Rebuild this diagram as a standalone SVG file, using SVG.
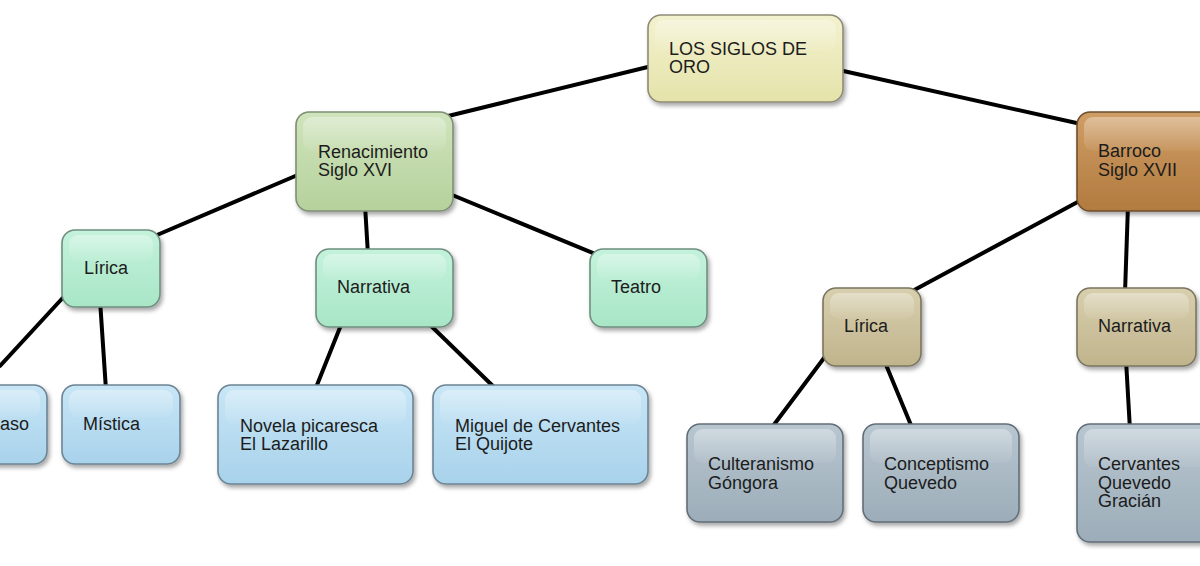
<svg xmlns="http://www.w3.org/2000/svg" width="1200" height="566" viewBox="0 0 1200 566">
<defs>
<filter id="sh" x="-20%" y="-20%" width="140%" height="140%">
<feDropShadow dx="2" dy="3" stdDeviation="2" flood-color="#000" flood-opacity="0.35"/>
</filter>
<linearGradient id="gY" x1="0" y1="0" x2="0" y2="1"><stop offset="0" stop-color="#f3f2cf"/><stop offset="1" stop-color="#e5e3aa"/></linearGradient>
<linearGradient id="gG" x1="0" y1="0" x2="0" y2="1"><stop offset="0" stop-color="#cfe4bc"/><stop offset="1" stop-color="#b6d19c"/></linearGradient>
<linearGradient id="gB" x1="0" y1="0" x2="0" y2="1"><stop offset="0" stop-color="#cf9e66"/><stop offset="1" stop-color="#b27a3e"/></linearGradient>
<linearGradient id="gM" x1="0" y1="0" x2="0" y2="1"><stop offset="0" stop-color="#c4f2dc"/><stop offset="1" stop-color="#a8e6c6"/></linearGradient>
<linearGradient id="gL" x1="0" y1="0" x2="0" y2="1"><stop offset="0" stop-color="#c8e6f6"/><stop offset="1" stop-color="#a8d2eb"/></linearGradient>
<linearGradient id="gT" x1="0" y1="0" x2="0" y2="1"><stop offset="0" stop-color="#d8cfae"/><stop offset="1" stop-color="#c0b48c"/></linearGradient>
<linearGradient id="gS" x1="0" y1="0" x2="0" y2="1"><stop offset="0" stop-color="#b8c6d0"/><stop offset="1" stop-color="#9cadb9"/></linearGradient>
<linearGradient id="hl" x1="0" y1="0" x2="0" y2="1"><stop offset="0" stop-color="#fff" stop-opacity="0.35"/><stop offset="1" stop-color="#fff" stop-opacity="0.05"/></linearGradient>
<style>
.box{stroke-width:1.6;filter:url(#sh)}
.hi{fill:url(#hl)}
.y{fill:url(#gY);stroke:#8e8c76}
.g{fill:url(#gG);stroke:#7f8f74}
.b{fill:url(#gB);stroke:#6e4f2e}
.m{fill:url(#gM);stroke:#6f8f80}
.l{fill:url(#gL);stroke:#6c8494}
.t{fill:url(#gT);stroke:#7b7660}
.s{fill:url(#gS);stroke:#626e78}
text{font-family:"Liberation Sans",Arial,sans-serif;font-size:18px;fill:#1c1c1c}
.c line{stroke:#000;stroke-width:4;stroke-linecap:round}
</style>
</defs>
<rect width="1200" height="566" fill="#fff"/>
<g id="connectors" class="c">
<line x1="660" y1="64" x2="440" y2="118"/>
<line x1="830" y1="68" x2="1090" y2="126"/>
<line x1="300" y1="174" x2="150" y2="238"/>
<line x1="365" y1="205" x2="368" y2="255"/>
<line x1="445" y1="192" x2="605" y2="258"/>
<line x1="70" y1="290" x2="0" y2="366"/>
<line x1="100" y1="300" x2="106" y2="390"/>
<line x1="343" y1="320" x2="315" y2="390"/>
<line x1="425" y1="320" x2="497" y2="390"/>
<line x1="1085" y1="198" x2="905" y2="295"/>
<line x1="1128" y1="205" x2="1125" y2="293"/>
<line x1="830" y1="350" x2="770" y2="430"/>
<line x1="884" y1="360" x2="913" y2="430"/>
<line x1="1126" y1="360" x2="1130" y2="430"/>
</g>
<g id="n-root">
<rect class="box y" x="648" y="15" width="195" height="87" rx="13"/>
<rect class="hi" x="655" y="20" width="181" height="30" rx="9"/>
<text x="669" y="55">LOS SIGLOS DE</text>
<text x="669" y="73">ORO</text>
</g>
<g id="n-renacimiento">
<rect class="box g" x="296" y="112" width="157" height="99" rx="13"/>
<rect class="hi" x="303" y="117" width="143" height="34" rx="9"/>
<text x="318" y="158">Renacimiento</text>
<text x="318" y="176">Siglo XVI</text>
</g>
<g id="n-barroco">
<rect class="box b" x="1077" y="112" width="140" height="99" rx="13"/>
<rect class="hi" x="1084" y="117" width="126" height="34" rx="9"/>
<text x="1098" y="157">Barroco</text>
<text x="1098" y="176">Siglo XVII</text>
</g>
<g id="n-lirica1">
<rect class="box m" x="62" y="230" width="98" height="77" rx="13"/>
<rect class="hi" x="69" y="235" width="84" height="26" rx="9"/>
<text x="84" y="274">Lírica</text>
</g>
<g id="n-narrativa1">
<rect class="box m" x="316" y="249" width="137" height="78" rx="13"/>
<rect class="hi" x="323" y="254" width="123" height="26" rx="9"/>
<text x="337" y="293">Narrativa</text>
</g>
<g id="n-teatro">
<rect class="box m" x="590" y="249" width="117" height="78" rx="13"/>
<rect class="hi" x="597" y="254" width="103" height="26" rx="9"/>
<text x="611" y="293">Teatro</text>
</g>
<g id="n-garcilaso">
<rect class="box l" x="-80" y="385" width="127" height="79" rx="13"/>
<rect class="hi" x="-73" y="390" width="113" height="27" rx="9"/>
<text x="0" y="430">aso</text>
</g>
<g id="n-mistica">
<rect class="box l" x="62" y="385" width="118" height="79" rx="13"/>
<rect class="hi" x="69" y="390" width="104" height="27" rx="9"/>
<text x="83" y="430">Mística</text>
</g>
<g id="n-novela">
<rect class="box l" x="218" y="385" width="195" height="99" rx="13"/>
<rect class="hi" x="225" y="390" width="181" height="34" rx="9"/>
<text x="240" y="432">Novela picaresca</text>
<text x="240" y="450">El Lazarillo</text>
</g>
<g id="n-cervantes1">
<rect class="box l" x="433" y="385" width="215" height="99" rx="13"/>
<rect class="hi" x="440" y="390" width="201" height="34" rx="9"/>
<text x="455" y="432">Miguel de Cervantes</text>
<text x="455" y="450">El Quijote</text>
</g>
<g id="n-lirica2">
<rect class="box t" x="823" y="288" width="98" height="78" rx="13"/>
<rect class="hi" x="830" y="293" width="84" height="26" rx="9"/>
<text x="844" y="332">Lírica</text>
</g>
<g id="n-narrativa2">
<rect class="box t" x="1077" y="288" width="119" height="78" rx="13"/>
<rect class="hi" x="1084" y="293" width="105" height="26" rx="9"/>
<text x="1098" y="332">Narrativa</text>
</g>
<g id="n-culteranismo">
<rect class="box s" x="687" y="424" width="156" height="98" rx="13"/>
<rect class="hi" x="694" y="429" width="142" height="34" rx="9"/>
<text x="708" y="470">Culteranismo</text>
<text x="708" y="489">Góngora</text>
</g>
<g id="n-conceptismo">
<rect class="box s" x="863" y="424" width="156" height="98" rx="13"/>
<rect class="hi" x="870" y="429" width="142" height="34" rx="9"/>
<text x="884" y="470">Conceptismo</text>
<text x="884" y="489">Quevedo</text>
</g>
<g id="n-cervantes2">
<rect class="box s" x="1077" y="424" width="140" height="118" rx="13"/>
<rect class="hi" x="1084" y="429" width="126" height="38" rx="9"/>
<text x="1098" y="470">Cervantes</text>
<text x="1098" y="489">Quevedo</text>
<text x="1098" y="507">Gracián</text>
</g>
</svg>
